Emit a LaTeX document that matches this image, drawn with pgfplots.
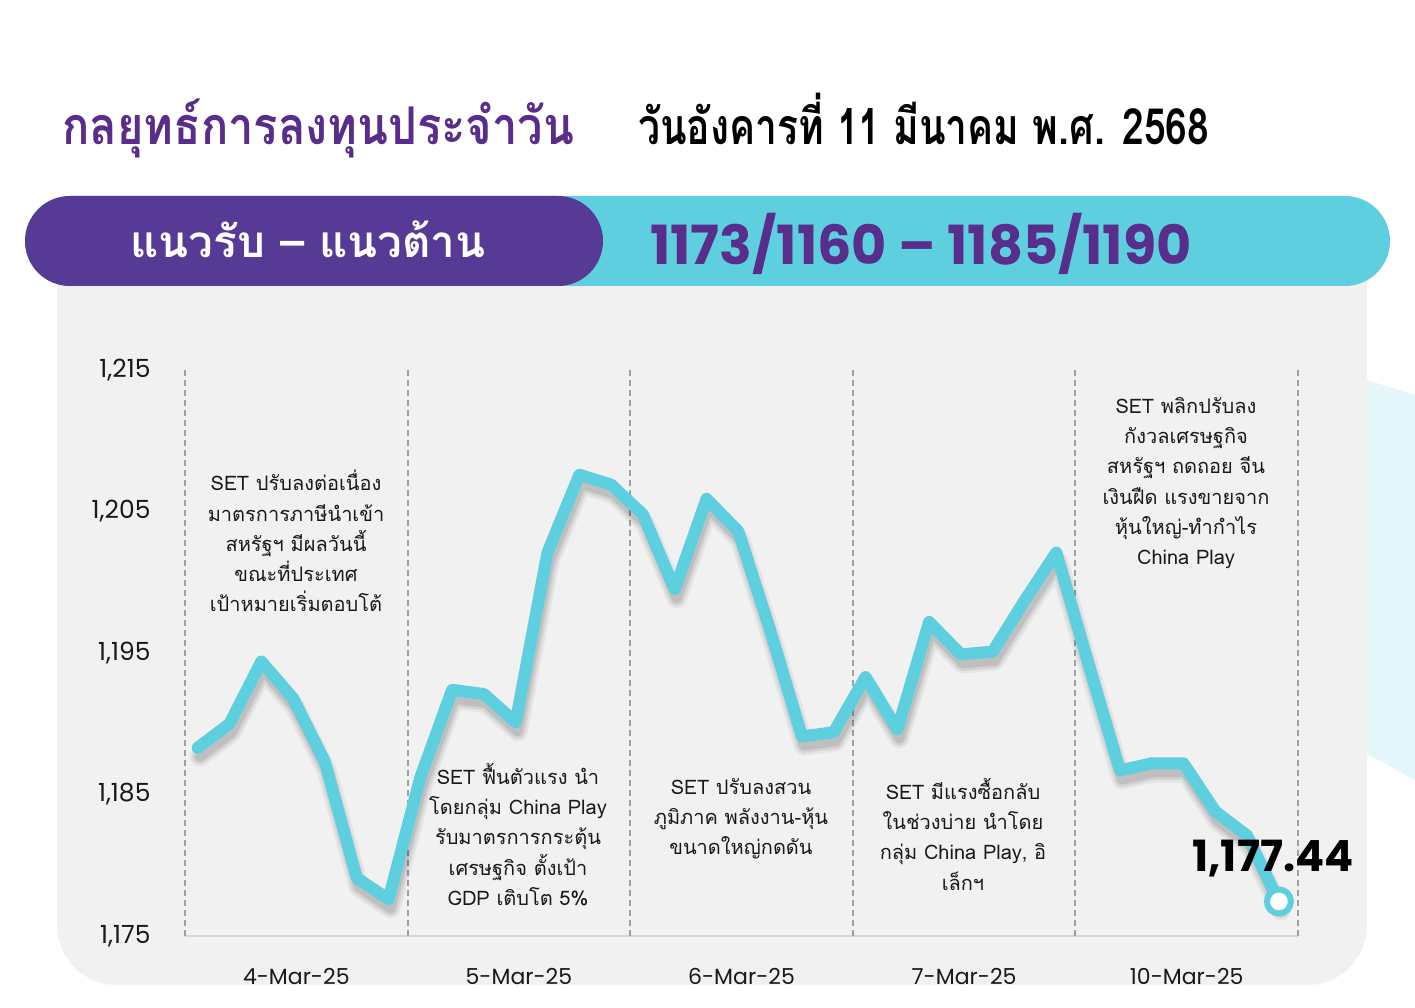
\documentclass[border=0pt]{standalone}
\usepackage{pgfplots}
\usepackage{pgfplotstable}
\pgfplotsset{compat=1.18}
\usepackage{fontspec}
\setmainfont{Poppins}
\newfontfamily\thai[Script=Thai]{Loma}
\newfontfamily\thaic[Script=Thai, FakeStretch=0.78]{Loma}
\newfontfamily\thait[Script=Thai, FakeStretch=0.87]{Loma}
\newfontfamily\pop{Poppins}
\definecolor{cyanL}{RGB}{94,207,223}
\definecolor{purpB}{RGB}{86,58,150}
\definecolor{purpT}{RGB}{88,45,140}
\definecolor{panel}{RGB}{241,241,242}
\definecolor{pale}{RGB}{229,246,250}
\definecolor{txt}{RGB}{25,25,25}
\pgfplotstableread{
x y
0.4 1188.3
1.4 1190.0
2.4 1194.4
3.4 1191.8
4.4 1187.3
5.4 1179.1
6.4 1177.6
7.4 1186.2
8.4 1192.4
9.4 1192.1
10.4 1190.1
11.4 1202.1
12.4 1207.6
13.4 1206.9
14.4 1204.8
15.4 1199.5
16.4 1205.9
17.4 1203.6
18.4 1196.6
19.4 1189.1
20.4 1189.4
21.4 1193.3
22.4 1189.6
23.4 1197.2
24.4 1194.9
25.4 1195.1
26.4 1198.7
27.4 1202.1
28.4 1194.3
29.4 1186.7
30.4 1187.2
31.4 1187.2
32.4 1183.8
33.4 1182.1
34.4 1177.44
}\setdata
\begin{document}
\begin{tikzpicture}[x=1pt,y=1pt]
\useasboundingbox (0,0) rectangle (1415,1008);
\fill[white] (0,0) rectangle (1415,1008);
\fill[pale] (1360,630) -- (1415,613) -- (1415,228) -- (1360,258) -- cycle;
\fill[panel, rounded corners=60pt] (57,23) rectangle (1367,780);
\fill[cyanL, rounded corners=45pt] (25,722) rectangle (1390,812);
\fill[purpB, rounded corners=45pt] (25,722) rectangle (603,812);
% titles
\node[anchor=base west, inner sep=0pt, text=purpT] at (62,863)
  {\thait\bfseries\fontsize{52}{52}\selectfont กลยุทธ์การลงทุนประจำวัน};
\node[anchor=base west, inner sep=0pt, text=black] at (638,863)
  {\thaic\bfseries\fontsize{50}{50}\selectfont วันอังคารที่ 11 มีนาคม พ.ศ. 2568};
\node[anchor=base, inner sep=0pt, text=white] at (308,750)
  {\thai\bfseries\fontsize{44}{44}\selectfont แนวรับ – แนวต้าน};
\node[anchor=base west, inner sep=0pt, text=purpT] at (650,743)
  {\pop\bfseries\fontsize{54}{54}\selectfont 1173/1160 – 1185/1190};
\begin{axis}[
  at={(185pt,72pt)}, anchor=south west,
  width=1113pt, height=566pt, scale only axis,
  xmin=0, xmax=35, ymin=1175, ymax=1215,
  clip=false,
  axis x line*=bottom, axis y line*=left,
  x axis line style={draw={rgb,255:red,215;green,215;blue,215}, line width=2pt, -},
  y axis line style={draw=none, -},
  xtick={3.5,10.5,17.5,24.5,31.5},
  xticklabels={4-Mar-25,5-Mar-25,6-Mar-25,7-Mar-25,10-Mar-25},
  ytick={1175,1185,1195,1205,1215},
  yticklabels={{1,175},{1,185},{1,195},{1,205},{1,215}},
  major tick length=0pt,
  tick label style={font=\pop\fontsize{22}{22}\selectfont, text=txt},
  xticklabel style={yshift=-29pt},
  yticklabel style={xshift=-31pt, font=\pop\fontsize{25}{25}\selectfont},
  extra x ticks={0,7,14,21,28,35},
  extra x tick labels={},
  extra x tick style={grid=major, major grid style={draw={rgb,255:red,160;green,160;blue,160}, line width=1.8pt, dash pattern=on 6pt off 4pt}},
]
\addplot[no marks, draw=black, opacity=0.05, line width=20pt, line join=round, line cap=round, xshift=2pt, yshift=-9pt] table {\setdata};
\addplot[no marks, draw=black, opacity=0.07, line width=15pt, line join=round, line cap=round, xshift=2pt, yshift=-9pt] table {\setdata};
\addplot[no marks, draw=black, opacity=0.09, line width=10pt, line join=round, line cap=round, xshift=2pt, yshift=-9pt] table {\setdata};
\addplot[no marks, draw=cyanL, line width=12pt, line join=round, line cap=round] table {\setdata};
\addplot[only marks, mark=*, mark size=12pt, mark options={fill=white, draw=cyanL, line width=6pt}] coordinates {(34.4,1177.44)};
\node[anchor=base, inner sep=0pt, xshift=-6pt, yshift=30pt, font=\pop\bfseries\fontsize{43}{43}\selectfont] at (axis cs:34.4,1177.44) {1,177.44};
\end{axis}
% annotations
\tikzset{ann/.style={anchor=north, inner sep=0pt, align=center, text=txt, font=\thai\fontsize{20}{30.3}\selectfont}}
\node[ann] at (296,1008-470) {SET ปรับลงต่อเนื่อง\\มาตรการภาษีนำเข้า\\สหรัฐฯ มีผลวันนี้\\ขณะที่ประเทศ\\เป้าหมายเริ่มตอบโต้};
\node[ann] at (518,1008-763) {SET ฟื้นตัวแรง นำ\\โดยกลุ่ม China Play\\รับมาตรการกระตุ้น\\เศรษฐกิจ ตั้งเป้า\\GDP เติบโต 5\%};
\node[ann] at (741,1008-778) {SET ปรับลงสวน\\ภูมิภาค พลังงาน-หุ้น\\ขนาดใหญ่กดดัน};
\node[ann] at (963,1008-778) {SET มีแรงซื้อกลับ\\ในช่วงบ่าย นำโดย\\กลุ่ม China Play, อิ\\เล็กฯ};
\node[ann] at (1186,1008-397) {SET พลิกปรับลง\\กังวลเศรษฐกิจ\\สหรัฐฯ ถดถอย จีน\\เงินฝืด แรงขายจาก\\หุ้นใหญ่-ทำกำไร\\China Play};
\end{tikzpicture}
\end{document}
